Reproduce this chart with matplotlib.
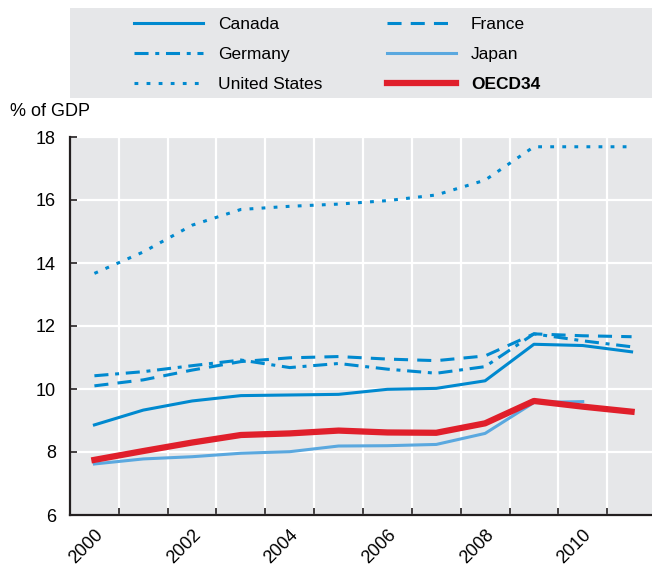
import numpy as np
import matplotlib.pyplot as plt
from matplotlib.lines import Line2D
from matplotlib.patches import Rectangle

plt.rcParams['font.family'] = ['Liberation Sans Narrow', 'Liberation Sans', 'DejaVu Sans']

# ---- data (health spending, % of GDP) ----
years = np.arange(2000, 2012)
canada = [8.86, 9.33, 9.62, 9.79, 9.81, 9.83, 9.99, 10.02, 10.26, 11.42, 11.38, 11.18]
france = [10.10, 10.29, 10.60, 10.87, 10.99, 11.03, 10.95, 10.90, 11.05, 11.75, 11.69, 11.66]
germany = [10.42, 10.55, 10.74, 10.92, 10.68, 10.81, 10.63, 10.50, 10.71, 11.75, 11.53, 11.34]
japan = [7.62, 7.78, 7.85, 7.96, 8.01, 8.19, 8.20, 8.24, 8.59, 9.57, 9.60, np.nan]
usa = [13.67, 14.35, 15.20, 15.70, 15.80, 15.87, 15.98, 16.16, 16.63, 17.69, 17.69, 17.69]
oecd = [7.75, 8.03, 8.30, 8.54, 8.59, 8.68, 8.62, 8.61, 8.91, 9.62, 9.44, 9.28]

year_labels = ['2000', '2002', '2004', '2006', '2008', '2010']
y_ticks = [6, 8, 10, 12, 14, 16, 18]

blue = '#0089cf'
lightblue = '#5aa8df'
red = '#e01f2b'
grey = '#e6e7e9'
dark = '#231f20'

dotted = (0, (1.25, 2.7))
dashdot = (0, (4.6, 2.2, 1.3, 2.2))
dashed = (0, (4.6, 3.0))

fig = plt.figure(figsize=(6.52, 5.67), dpi=100)
ax = fig.add_axes([70 / 652, 52 / 567, 586 / 652, 378 / 567])
ax.set_facecolor(grey)

x = np.arange(len(years))
ax.plot(x, usa, color=blue, lw=2.2, ls=dotted, zorder=3)
ax.plot(x, germany, color=blue, lw=2.2, ls=dashdot, zorder=3)
ax.plot(x, france, color=blue, lw=2.2, ls=dashed, zorder=3)
ax.plot(x, canada, color=blue, lw=2.2, zorder=3)
ax.plot(x, japan, color=lightblue, lw=2.2, zorder=3)
ax.plot(x, oecd, color=red, lw=4.5, zorder=4)

ax.set_xlim(-0.5, 11.5)
ax.set_ylim(6, 18)
ax.set_yticks(y_ticks)
ax.set_xticks(x[::2])
ax.set_xticklabels(year_labels, rotation=45, ha='right', va='top', rotation_mode='anchor')
ax.set_xticks(np.arange(0.5, 11.5, 1), minor=True)

ax.tick_params(axis='x', which='major', length=0, pad=8, labelsize=13)
ax.tick_params(axis='x', which='minor', direction='in', length=5, width=1.2, color=dark)
ax.tick_params(axis='y', direction='in', length=5, width=1.2, color=dark, pad=10, labelsize=13)

ax.grid(axis='y', which='major', color='white', lw=1.6)
ax.grid(axis='x', which='minor', color='white', lw=1.6)
ax.set_axisbelow(True)

for s in ['top', 'right']:
    ax.spines[s].set_visible(False)
for s in ['left', 'bottom']:
    ax.spines[s].set_color(dark)
    ax.spines[s].set_linewidth(1.6)

fig.text(10 / 652, 1 - 112 / 567, '% of GDP', fontsize=13, va='center', ha='left')

# legend box
fig.patches.append(Rectangle((70 / 652, 1 - 98 / 567), 582 / 652, 90 / 567,
                             transform=fig.transFigure, facecolor=grey, edgecolor='none', zorder=0))
handles = [
    Line2D([], [], color=blue, lw=2.2),
    Line2D([], [], color=blue, lw=2.2, ls=dashdot),
    Line2D([], [], color=blue, lw=2.2, ls=dotted),
    Line2D([], [], color=blue, lw=2.2, ls=dashed),
    Line2D([], [], color=lightblue, lw=2.2),
    Line2D([], [], color=red, lw=4.5),
]
labels = ['Canada', 'Germany', 'United States', 'France', 'Japan', 'OECD34']
leg = fig.legend(handles, labels, ncol=2, loc='upper left', bbox_to_anchor=(118 / 652, 1 - 1 / 567),
                 frameon=False, fontsize=12.5, handlelength=4.0, handletextpad=0.86,
                 columnspacing=3.7, labelspacing=0.87)
leg.get_texts()[5].set_fontweight('bold')

fig.savefig('out.png', dpi=100)
